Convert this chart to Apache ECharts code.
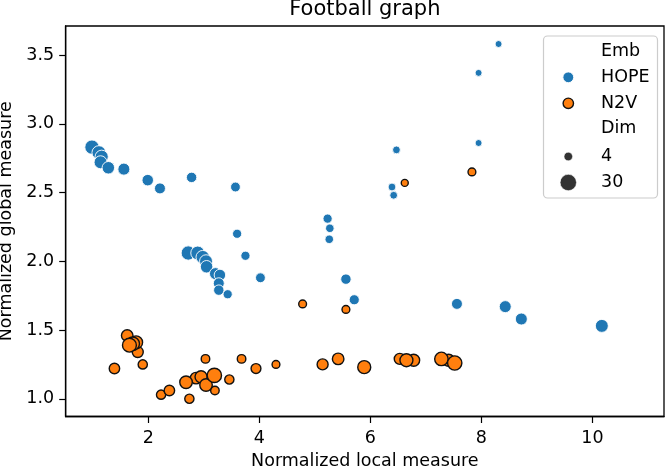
<!DOCTYPE html>
<html><head><meta charset="utf-8">
<script src="https://cdn.jsdelivr.net/npm/echarts@6/dist/echarts.min.js"></script>
<style>html,body{margin:0;padding:0;background:#fff}#c{width:667px;height:468px}</style>
</head><body><div id="c"></div>
<script>
// HOPE embedding points
const hopeX = [0.985,1.11,1.16,1.14,1.28,1.56,1.99,2.21,2.78,3.57, 2.72,2.89,2.98,3.04,3.05,3.21,3.29,3.27,3.27,3.43,3.60,3.75,4.02, 5.23,5.27,5.26,6.47,6.39,6.42,7.95,7.95,8.31,5.56,5.71,7.56,8.43,8.72,10.17];
const hopeY = [2.83,2.79,2.76,2.72,2.68,2.67,2.59,2.53,2.61,2.54, 2.06,2.06,2.03,2.00,1.96,1.91,1.90,1.84,1.79,1.76,2.20,2.04,1.88, 2.31,2.24,2.16,2.81,2.54,2.48,2.86,3.37,3.58,1.87,1.72,1.69,1.67,1.58,1.53];
const hopeDim = [30,28,25,24,22,20,18,16,14,12, 30,28,26,24,22,20,18,16,14,10,10,10,12, 10,8,8,6,6,6,4,4,4,14,13,16,20,20,24];
// N2V embedding points
const n2vX = [6.62, 7.83,4.78,5.56,4.30, 3.03,3.68,3.20, 1.90,3.46,2.23,2.74, 3.94, 1.39,2.38, 1.81,5.14,6.53, 1.62,2.86,5.42, 2.95,6.78,7.41, 3.04,2.68, 1.78,5.89,6.65, 1.72,7.28, 1.66, 3.19,7.52];
const n2vY = [2.57, 2.65,1.69,1.65,1.25, 1.29,1.29,1.06, 1.25,1.14,1.03,1.00, 1.22, 1.22,1.06, 1.34,1.25,1.29, 1.46,1.15,1.29, 1.16,1.28,1.28, 1.10,1.12, 1.41,1.23,1.28, 1.40,1.29, 1.39, 1.17,1.26];
const n2vDim = [4, 6,6,6,6, 8,8,8, 10,10,10,10, 12, 14,14, 16,16,16, 18,18,18, 20,20,20, 22,22, 24,24,24, 26,26, 28, 30,30];
// ticks
const xTicks = [2,4,6,8,10];
const yTicks = [1.0,1.5,2.0,2.5,3.0,3.5];
const legendDims = [4,30];

const FONT = 'DejaVu Sans';
const FS = 17.5;
const BLUE = '#1f77b4', ORANGE = '#ff7f0e';
function sz(dim){ return Math.sqrt(49 + (dim-4)*5.98); }
function pts(xs, ys, ds){ return xs.map((x,i)=>[x, ys[i], ds[i]]); }

const L = 65.7, R = 664, T = 26, B = 416.5;
const chart = echarts.init(document.getElementById('c'), null, {renderer:'canvas'});
const lx = 568.3, tx = 601;
chart.setOption({
  animation: false,
  grid: {left: L, right: 667-R, top: T, bottom: 468-B, show: true, borderColor: '#000', borderWidth: 1.3, containLabel: false, outerBoundsMode: 'none'},
  xAxis: {
    type: 'value', min: 0.512, max: 11.29,
    name: 'Normalized local measure', nameLocation: 'middle', nameGap: 36,
    nameTextStyle: {fontFamily: FONT, fontSize: FS, color: '#000'},
    axisLine: {show: true, onZero: false, lineStyle: {color: '#000', width: 1.3}},
    axisTick: {show: true, length: 6.5, lineStyle: {color: '#000', width: 1.2}, customValues: xTicks},
    axisLabel: {fontFamily: FONT, fontSize: FS, color: '#000', margin: 12.5, customValues: xTicks, formatter: v => String(v)},
    splitLine: {show: false}
  },
  yAxis: {
    type: 'value', min: 0.871, max: 3.711,
    name: 'Normalized global measure', nameLocation: 'middle', nameGap: 49,
    nameTextStyle: {fontFamily: FONT, fontSize: FS, color: '#000'},
    axisLine: {show: true, onZero: false, lineStyle: {color: '#000', width: 1.3}},
    axisTick: {show: true, length: 6.5, lineStyle: {color: '#000', width: 1.2}, customValues: yTicks},
    axisLabel: {fontFamily: FONT, fontSize: FS, color: '#000', margin: 11.5, customValues: yTicks, formatter: v => v.toFixed(1)},
    splitLine: {show: false}
  },
  series: [
    {type: 'scatter', name: 'HOPE', data: pts(hopeX, hopeY, hopeDim), symbol: 'circle',
     symbolSize: v => sz(v[2]), itemStyle: {color: BLUE, borderColor: '#fff', borderWidth: 0.9, opacity: 1},
     emphasis: {disabled: true}, silent: true},
    {type: 'scatter', name: 'N2V', data: pts(n2vX, n2vY, n2vDim), symbol: 'circle',
     symbolSize: v => sz(v[2]), itemStyle: {color: ORANGE, borderColor: '#111', borderWidth: 1.4, opacity: 1},
     emphasis: {disabled: true}, silent: true}
  ],
  graphic: [
    {type: 'text', x: (L+R)/2, y: 9.4, style: {text: 'Football graph', fontFamily: FONT, fontSize: 21, fill: '#000', align: 'center', verticalAlign: 'middle'}},
    {type: 'rect', shape: {x: 543.5, y: 36, width: 114, height: 162, r: 4}, style: {fill: 'rgba(255,255,255,0.8)', stroke: '#cccccc', lineWidth: 1.2}, z: 10},
    {type: 'text', x: tx, y: 51.6, z: 11, style: {text: 'Emb', fontFamily: FONT, fontSize: FS, fill: '#000', align: 'left', verticalAlign: 'middle'}},
    {type: 'circle', shape: {cx: lx, cy: 77.3, r: 5.4}, z: 11, style: {fill: BLUE, stroke: '#fff', lineWidth: 0.9}},
    {type: 'text', x: tx, y: 77.2, z: 11, style: {text: 'HOPE', fontFamily: FONT, fontSize: FS, fill: '#000', align: 'left', verticalAlign: 'middle'}},
    {type: 'circle', shape: {cx: lx, cy: 103.3, r: 5.2}, z: 11, style: {fill: ORANGE, stroke: '#111', lineWidth: 1.4}},
    {type: 'text', x: tx, y: 103.2, z: 11, style: {text: 'N2V', fontFamily: FONT, fontSize: FS, fill: '#000', align: 'left', verticalAlign: 'middle'}},
    {type: 'text', x: tx, y: 128.9, z: 11, style: {text: 'Dim', fontFamily: FONT, fontSize: FS, fill: '#000', align: 'left', verticalAlign: 'middle'}},
    {type: 'circle', shape: {cx: lx, cy: 156.5, r: 4.3}, z: 11, style: {fill: '#333333', stroke: '#fff', lineWidth: 0.6}},
    {type: 'text', x: tx, y: 156.2, z: 11, style: {text: String(legendDims[0]), fontFamily: FONT, fontSize: FS, fill: '#000', align: 'left', verticalAlign: 'middle'}},
    {type: 'circle', shape: {cx: lx, cy: 182.5, r: 8.2}, z: 11, style: {fill: '#333333', stroke: '#fff', lineWidth: 0.6}},
    {type: 'text', x: tx, y: 182.2, z: 11, style: {text: String(legendDims[1]), fontFamily: FONT, fontSize: FS, fill: '#000', align: 'left', verticalAlign: 'middle'}}
  ]
});
</script>
</body></html>
